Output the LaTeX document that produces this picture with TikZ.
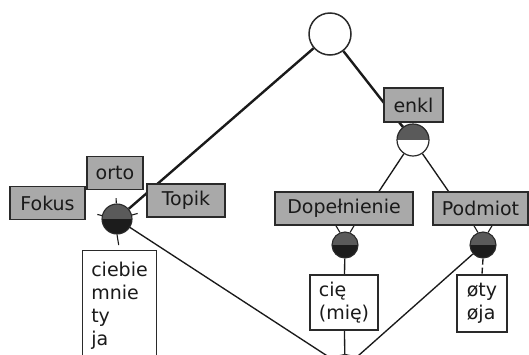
\documentclass[tikz,border=0pt]{standalone}
\usepackage{fontspec}
\setmainfont{DejaVu Sans}
\usetikzlibrary{backgrounds}
\definecolor{boxgray}{HTML}{A9A9A9}
\definecolor{edge}{HTML}{2A2A2A}
\definecolor{upperdark}{HTML}{5A5A5A}
\definecolor{lowerdark}{HTML}{1C1C1C}
\definecolor{ink}{HTML}{1A1A1A}
\tikzset{
  lab/.style={draw=edge, fill=boxgray, line width=1.3pt, inner sep=2pt,
    minimum height=33pt, text=ink, font=\fontsize{19}{23}\selectfont},
  wbox/.style={draw=edge, fill=white, line width=1.3pt, text=ink, align=left,
    font=\fontsize{19}{23}\selectfont},
  halfdark/.style={circle, draw=edge, line width=1.1pt, inner sep=0pt,
    path picture={\fill[lowerdark] (path picture bounding box.south west) rectangle (path picture bounding box.north east);
                  \fill[upperdark] (path picture bounding box.north west) rectangle (path picture bounding box.east);}},
  halflight/.style={circle, draw=edge, line width=1.2pt, inner sep=0pt, fill=white,
    path picture={\fill[upperdark] (path picture bounding box.north west) rectangle (path picture bounding box.east);}},
  thick line/.style={draw=ink, line width=2.4pt},
  thin line/.style={draw=ink, line width=1.35pt},
  tick/.style={draw=ink, line width=1.1pt},
}
\begin{document}
\begin{tikzpicture}[x=1pt,y=-1pt]
\useasboundingbox (0,0) rectangle (529,354);
\clip (0,0) rectangle (529,354);
% nodes
\node[circle, draw=edge, fill=white, line width=1.5pt, minimum size=42pt, inner sep=0pt] (top) at (330,34) {};
\node[halfdark, minimum size=30pt] (lc) at (117,219) {};
\node[halflight, minimum size=32pt] (ec) at (413,140) {};
\node[halfdark, minimum size=26pt] (dc) at (345,245) {};
\node[halfdark, minimum size=26pt] (pc) at (483,245) {};
\node[circle, draw=edge, fill=white, line width=1.2pt, minimum size=26pt, inner sep=0pt] (bot) at (345,367.5) {};

\node[lab, minimum width=75pt] (fokus) at (47.5,203) {Fokus};
\node[lab, minimum width=56pt] (orto) at (115,173) {orto};
\node[lab, minimum width=78pt] (topik) at (186,200.5) {Topik};
\node[lab, minimum width=59pt, minimum height=34pt] (enkl) at (413.5,105) {enkl};
\node[lab, minimum width=138pt] (dop) at (344,208.5) {Dopełnienie};
\node[lab, minimum width=95pt] (pod) at (480.5,208.5) {Podmiot};

\node[wbox, anchor=north, inner xsep=9pt, inner ysep=11pt, text depth=40pt] (cieb) at (119.5,250) {ciebie\\mnie\\ty\\ja};
\node[wbox, minimum width=68pt, minimum height=55pt] (cie) at (344,302.5) {cię\\(mię)};
\node[wbox, minimum width=50pt, minimum height=57pt] (oty) at (482,303.5) {øty\\øja};

% connectors
\begin{pgfonlayer}{background}
\draw[thick line] (top) -- (lc);
\draw[thick line] (top) -- (ec);
\draw[thin line] (ec) -- ([xshift=35pt]dop.north);
\draw[thin line] (ec) -- ([xshift=-32pt]pod.north);
\draw[thin line] (dc) -- (cie);
\draw[thin line, dash pattern=on 6pt off 3pt] (pc.south) -- (oty.north);
\draw[thin line] (cie) -- (bot);
\draw[thin line] (lc) -- (bot);
\draw[thin line] (pc) -- (bot);
\draw[tick, shorten >=8pt] (lc) -- (orto);
\draw[tick, shorten >=12pt] (lc) -- (fokus);
\draw[tick, shorten >=9pt] (lc) -- (topik);
\draw[tick, shorten >=5pt] (lc.south) -- (cieb.north);
\draw[tick] (dc.112) -- ([xshift=-4pt]dc.112 |- dop.south);
\draw[tick] (dc.68) -- ([xshift=4pt]dc.68 |- dop.south);
\draw[tick] (pc.112) -- ([xshift=-4pt]pc.112 |- pod.south);
\draw[tick] (pc.68) -- ([xshift=4pt]pc.68 |- pod.south);
\draw[tick] (ec.125) -- ([xshift=-4pt]ec.125 |- enkl.south);
\end{pgfonlayer}
\end{tikzpicture}
\end{document}
